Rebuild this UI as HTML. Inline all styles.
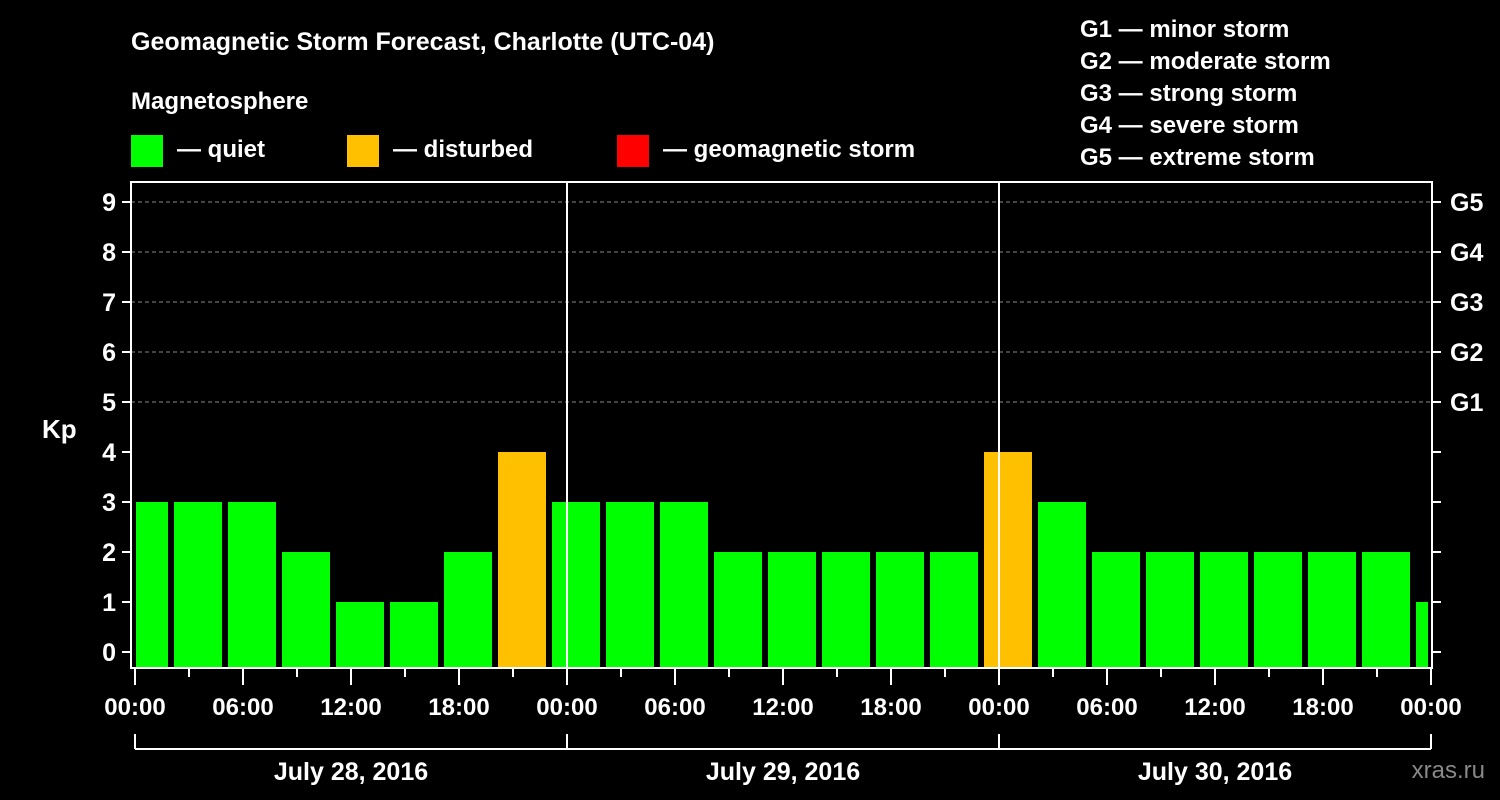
<!DOCTYPE html>
<html><head><meta charset="utf-8"><style>
body{margin:0;background:#000;width:1500px;height:800px;overflow:hidden}
svg{display:block;font-family:"Liberation Sans",Arial,sans-serif;font-weight:bold}
</style></head><body>
<svg id="c" width="1500" height="800" xmlns="http://www.w3.org/2000/svg">
<text x="131" y="50" fill="#fff" font-size="25">Geomagnetic Storm Forecast, Charlotte (UTC-04)</text>
<text x="131" y="109" fill="#fff" font-size="24">Magnetosphere</text>
<g><rect x="131" y="135" width="32" height="32" fill="#00ff00"/><text x="177" y="157" fill="#fff" font-size="24">— quiet</text></g>
<g><rect x="347" y="135" width="32" height="32" fill="#ffc000"/><text x="393" y="157" fill="#fff" font-size="24">— disturbed</text></g>
<g><rect x="617" y="135" width="32" height="32" fill="#ff0000"/><text x="663" y="157" fill="#fff" font-size="24">— geomagnetic storm</text></g>
<g fill="#fff" font-size="24">
<text x="1080" y="37">G1 — minor storm</text><text x="1080" y="69">G2 — moderate storm</text><text x="1080" y="101">G3 — strong storm</text><text x="1080" y="133">G4 — severe storm</text><text x="1080" y="165">G5 — extreme storm</text></g>
<text x="42" y="438" fill="#fff" font-size="26">Kp</text>
<text x="1485" y="778" fill="#888" font-size="24" text-anchor="end" font-weight="normal">xras.ru</text>
<defs><clipPath id="pc"><rect x="136" y="182" width="1292" height="486"/></clipPath></defs>
<g id="grid"></g><g id="bars" clip-path="url(#pc)"></g><g id="axes"></g>
</svg>
<script>
const kpValues=[3,3,3,2,1,1,2,4, 3,3,3,2,2,2,2,2, 4,3,2,2,2,2,2,2, 1];
const hourOffsets=[0.5,3.5,6.5,9.5,12.5,15.5,18.5,21.5,24.5,27.5,30.5,33.5,36.5,39.5,42.5,45.5,48.5,51.5,54.5,57.5,60.5,63.5,66.5,69.5,72.5];
const yTicks=[0,1,2,3,4,5,6,7,8,9];
const gLabels=["G1","G2","G3","G4","G5"];
const xTickLabels=["00:00","06:00","12:00","18:00","00:00","06:00","12:00","18:00","00:00","06:00","12:00","18:00","00:00"];
const dayLabels=["July 28, 2016","July 29, 2016","July 30, 2016"];
const NS="http://www.w3.org/2000/svg";
const X=h=>135+h*18, Y=k=>652-k*50;
function mk(t,a,p){const e=document.createElementNS(NS,t);for(const k in a)e.setAttribute(k,a[k]);p.appendChild(e);return e;}
const grid=document.getElementById('grid'),bars=document.getElementById('bars'),axes=document.getElementById('axes');
yTicks.forEach(k=>{if(k>=5){const l=mk('line',{x1:131,x2:1432,y1:Y(k),y2:Y(k),stroke:'#888','stroke-dasharray':'4,3','stroke-width':1},grid);

}});
kpValues.forEach((v,i)=>{const c=v>=5?'#ff0000':(v>=4?'#ffc000':'#00ff00');
const r=mk('rect',{x:X(hourOffsets[i])-24,y:Y(v),width:48,height:668-Y(v),fill:c},bars);

});
mk('rect',{x:131,y:182,width:1301,height:486,fill:'none',stroke:'#fff','stroke-width':2},axes);
[1,2].forEach(d=>{const l=mk('line',{x1:X(24*d),x2:X(24*d),y1:182,y2:668,stroke:'#fff','stroke-width':2},axes);

});
yTicks.forEach(k=>{mk('line',{x1:122,x2:131,y1:Y(k),y2:Y(k),stroke:'#fff','stroke-width':2},axes);
mk('line',{x1:1432,x2:1441,y1:Y(k),y2:Y(k),stroke:'#fff','stroke-width':2},axes);
const t=mk('text',{x:116,y:Y(k)+9,fill:'#fff','font-size':25,'text-anchor':'end'},axes);t.textContent=k;

});
gLabels.forEach((g,i)=>{const t=mk('text',{x:1450,y:Y(5+i)+9,fill:'#fff','font-size':25},axes);t.textContent=g;

});
for(let h=0;h<=72;h+=3){const maj=h%6===0;mk('line',{x1:X(h),x2:X(h),y1:668,y2:maj?685:677,stroke:'#fff','stroke-width':2},axes);}
xTickLabels.forEach((s,i)=>{const t=mk('text',{x:X(i*6),y:715,fill:'#fff','font-size':24,'text-anchor':'middle'},axes);t.textContent=s;

});
mk('line',{x1:X(0),x2:X(72),y1:749,y2:749,stroke:'#fff','stroke-width':2},axes);
for(let d=0;d<=3;d++)mk('line',{x1:X(24*d),x2:X(24*d),y1:734,y2:749,stroke:'#fff','stroke-width':2},axes);
dayLabels.forEach((s,i)=>{const t=mk('text',{x:X(24*i+12),y:780,fill:'#fff','font-size':25,'text-anchor':'middle'},axes);t.textContent=s;

});
</script>
</body></html>
